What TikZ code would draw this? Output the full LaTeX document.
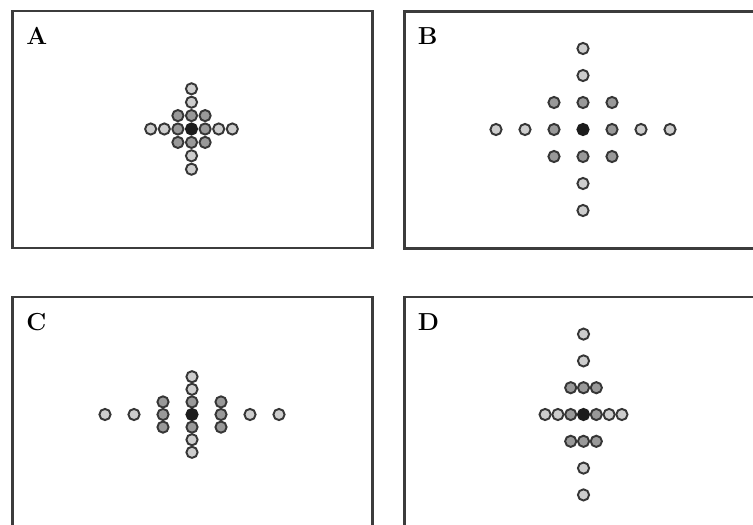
\documentclass[tikz,border=0pt]{standalone}
\usepackage{tikz}
\definecolor{cerceveGri}{HTML}{3C3C3C}
\definecolor{halkaGri}{HTML}{363636}
\definecolor{acikGri}{HTML}{CDCDCD}
\definecolor{ortaGri}{HTML}{999999}
\definecolor{merkezSiyah}{HTML}{1C1C1C}
\tikzset{
  cerceve/.style={draw=cerceveGri,line width=1.7pt},
  harf/.style={anchor=base west,inner sep=0pt,font=\fontsize{14}{14}\selectfont\bfseries},
  disNokta/.style={fill=acikGri,draw=halkaGri,line width=1.1pt},
  icNokta/.style={fill=ortaGri,draw=halkaGri,line width=1.1pt},
  merkezNokta/.style={fill=merkezSiyah,draw=merkezSiyah,line width=1.1pt}
}

\begin{document}
\begin{tikzpicture}[x=0.02cm,y=-0.02cm]
\useasboundingbox (0,0) rectangle (753,524);
% A: sik, iki yonde
\begin{scope}[shift={(12.5,11)}]
\draw[cerceve] (0,0) rectangle (359.5,237);
\node[harf] (harfA) at (13.5,33) {A};
\foreach \i in {-3,-2,2,3} {
  \filldraw[disNokta] (179+13.6*\i,118) circle (0.112cm);
  \filldraw[disNokta] (179,118+13.4*\i) circle (0.112cm);
}
\foreach \i/\j in {-1/-1,0/-1,1/-1,-1/0,1/0,-1/1,0/1,1/1}
  \filldraw[icNokta] (179+13.6*\i,118+13.4*\j) circle (0.112cm);
\filldraw[merkezNokta] (179,118) circle (0.112cm);
\end{scope}
% B: seyrek, iki yonde
\begin{scope}[shift={(404,11.5)}]
\draw[cerceve] (0,0) rectangle (359.5,237);
\node[harf] (harfB) at (13.5,33) {B};
\foreach \i in {-3,-2,2,3} {
  \filldraw[disNokta] (179+29*\i,118) circle (0.112cm);
  \filldraw[disNokta] (179,118+27*\i) circle (0.112cm);
}
\foreach \i/\j in {-1/-1,0/-1,1/-1,-1/0,1/0,-1/1,0/1,1/1}
  \filldraw[icNokta] (179+29*\i,118+27*\j) circle (0.112cm);
\filldraw[merkezNokta] (179,118) circle (0.112cm);
\end{scope}
% C: yatay seyrek, dikey sik
\begin{scope}[shift={(12.5,297)}]
\draw[cerceve] (0,0) rectangle (359.5,237);
\node[harf] (harfC) at (13.5,33) {C};
\foreach \i in {-3,-2,2,3} {
  \filldraw[disNokta] (179.5+29*\i,117.5) circle (0.112cm);
  \filldraw[disNokta] (179.5,117.5+12.6*\i) circle (0.112cm);
}
\foreach \i/\j in {-1/-1,0/-1,1/-1,-1/0,1/0,-1/1,0/1,1/1}
  \filldraw[icNokta] (179.5+29*\i,117.5+12.6*\j) circle (0.112cm);
\filldraw[merkezNokta] (179.5,117.5) circle (0.112cm);
\end{scope}
% D: yatay sik, dikey seyrek
\begin{scope}[shift={(404,297)}]
\draw[cerceve] (0,0) rectangle (359.5,237);
\node[harf] (harfD) at (13.5,33) {D};
\foreach \i in {-3,-2,2,3} {
  \filldraw[disNokta] (179.5+12.8*\i,117.5) circle (0.112cm);
  \filldraw[disNokta] (179.5,117.5+26.8*\i) circle (0.112cm);
}
\foreach \i/\j in {-1/-1,0/-1,1/-1,-1/0,1/0,-1/1,0/1,1/1}
  \filldraw[icNokta] (179.5+12.8*\i,117.5+26.8*\j) circle (0.112cm);
\filldraw[merkezNokta] (179.5,117.5) circle (0.112cm);
\end{scope}
\end{tikzpicture}
\end{document}
